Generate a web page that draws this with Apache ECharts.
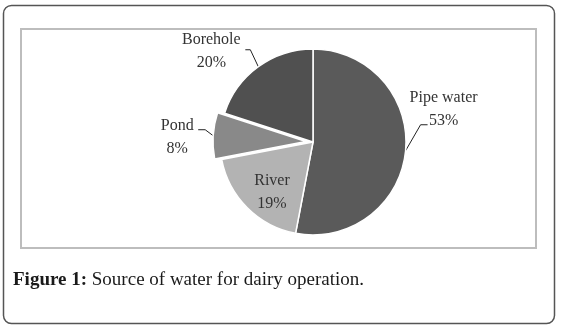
<!DOCTYPE html>
<html>
<head>
<meta charset="utf-8">
<script src="https://cdn.jsdelivr.net/npm/echarts@6/dist/echarts.min.js"></script>
<style>
  html, body { margin: 0; padding: 0; background: #fff; }
  #chart { width: 561px; height: 330px; }
</style>
</head>
<body>
<div id="chart"></div>
<script>
// data
const sources = ["Pipe water", "River", "Pond", "Borehole"];
const shares = [53, 19, 8, 20];
const shades = ["#5a5a5a", "#b3b3b3", "#898989", "#505050"];

// guide line shape for outside labels: bend offset from slice edge, then short horizontal tail
const guides = {
  "Pipe water": { bend: [15, -26], tail: 7, dx: 16, dy: -15 },
  "Borehole": { bend: [-8, -17], tail: -5, dx: -34, dy: 2 },
  "Pond": { bend: [-8, -6], tail: -7, lineOnly: true }
};
// inside label sits further out than the library's default half radius
const insideShift = { "River": [-6, 15] };

const chart = echarts.init(document.getElementById("chart"));

const labelFont = {
  fontFamily: "Liberation Serif",
  fontSize: 16,
  color: "#333",
  lineHeight: 23
};

chart.setOption({
  animation: false,
  title: {
    text: "{b|Figure 1:} Source of water for dairy operation.",
    left: 13,
    top: 271,
    padding: 0,
    textStyle: {
      rich: {
        b: { fontFamily: "Liberation Serif", fontSize: 19, fontWeight: "bold", color: "#1a1a1a" }
      },
      fontFamily: "Liberation Serif",
      fontSize: 19,
      fontWeight: "normal",
      color: "#1a1a1a"
    }
  },
  graphic: [
    {
      type: "rect",
      shape: { x: 3.5, y: 5.5, width: 551, height: 318, r: 8 },
      style: { fill: null, stroke: "#555", lineWidth: 1.5 },
      silent: true
    },
    {
      type: "rect",
      shape: { x: 21, y: 29, width: 515, height: 219 },
      style: { fill: null, stroke: "#bdbdbd", lineWidth: 2 },
      silent: true
    }
  ],
  series: [
    {
      type: "pie",
      center: [313, 142],
      radius: 93,
      startAngle: 90,
      clockwise: true,
      selectedMode: "single",
      selectedOffset: 7,
      emphasis: { disabled: true },
      itemStyle: { borderColor: "#fff", borderWidth: 1.5 },
      label: Object.assign({ formatter: "{b}\n{c}%", position: "outside" }, labelFont),
      labelLine: { show: true, length: 10, length2: 6, lineStyle: { color: "#222", width: 1 } },
      labelLayout: function (params) {
        const name = sources[params.dataIndex];
        const shift = insideShift[name];
        if (shift) {
          const r = params.labelRect;
          return {
            x: r.x + r.width / 2 + shift[0],
            y: r.y + r.height / 2 + shift[1],
            align: "center",
            verticalAlign: "middle"
          };
        }
        const g = guides[name];
        const pts = params.labelLinePoints;
        if (!g || !pts) return {};
        const edge = pts[0];
        const bend = [edge[0] + g.bend[0], edge[1] + g.bend[1]];
        const end = [bend[0] + g.tail, bend[1]];
        if (g.lineOnly) return { labelLinePoints: [edge, bend, end] };
        return {
          x: end[0] + g.dx,
          y: end[1] + g.dy,
          align: "center",
          verticalAlign: "middle",
          labelLinePoints: [edge, bend, end]
        };
      },
      data: sources.map((name, i) => {
        const item = {
          name: name,
          value: shares[i],
          itemStyle: { color: shades[i] }
        };
        if (name === "Pond") {
          // exploded slice: its label keeps the library's own placement
          item.selected = true;
          item.labelLine = { length: 8, length2: 6 };
          item.label = {
            formatter: "{t|{b}}\n{t|{c}%}",
            padding: [5, 0, 0, 0],
            rich: { t: Object.assign({ width: 34, align: "center" }, labelFont) }
          };
        }
        if (name === "River") {
          item.label = { position: "inside" };
          item.labelLine = { show: false };
        }
        return item;
      })
    }
  ]
});
</script>
</body>
</html>
